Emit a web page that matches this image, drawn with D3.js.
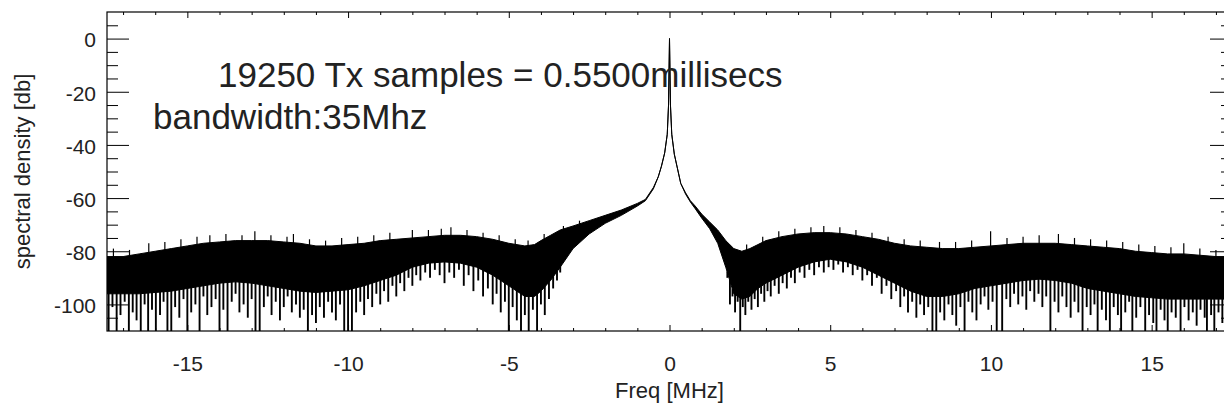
<!DOCTYPE html>
<html>
<head>
<meta charset="utf-8">
<script src="https://cdn.jsdelivr.net/npm/d3@7"></script>
<style>
  body { margin: 0; background: #fff; }
  svg { display: block; overflow: hidden; }
  text { font-family: "Liberation Sans", Arial, Helvetica, sans-serif; fill: #222; }
</style>
</head>
<body>
<div id="chart"></div>
<script>
// spectrum: dense noise band (top / bottom edge) in dB
const bandFreq = [-17.5, -17.0, -16.5, -16.0, -15.5, -15.0, -14.5, -14.0, -13.5, -13.0, -12.5, -12.0,
    -11.5, -11.0, -10.5, -10.0, -9.5, -9.0, -8.5, -8.0, -7.5, -7.0, -6.5, -6.0, -5.5, -5.0, -4.5, -4.2,
    -4.0, -3.7, -3.4, -3.0, -2.5, -2.0, -1.5, -1.0, -0.75, -0.5, -0.35, -0.25, -0.15, -0.07, -0.03, 0,
    0.03, 0.07, 0.15, 0.25, 0.35, 0.5, 0.65, 0.8, 1.0, 1.25, 1.5, 1.75, 2.0, 2.25, 2.5, 2.75, 3.0,
    3.5, 4.0, 4.5, 5.0, 5.5, 6.0, 6.5, 7.0, 7.5, 8.0, 8.5, 9.0, 9.5, 10.0, 10.5, 11.0, 11.5, 12.0,
    12.5, 13.0, 13.5, 14.0, 14.5, 15.0, 15.5, 16.0, 16.5, 17.0, 17.5];
const bandTop = [-82, -82, -81, -80, -79, -78, -77, -76.5, -76, -76, -76, -76.5,
    -77, -78, -78, -77.5, -77, -76, -75.5, -75, -74.5, -74, -74, -74.5, -75.5, -77, -78, -77.5,
    -76, -74, -72, -70.5, -68.5, -66.5, -64.5, -62, -60.5, -56, -52, -48, -43, -36, -25, 0,
    -25, -36, -43.5, -49, -54.5, -58, -61, -63, -66, -69, -72, -76, -79, -80, -79, -77.5, -76,
    -74.5, -73.5, -73, -73, -73.5, -74.5, -75.5, -77, -78, -78.5, -79, -79, -78.5, -78, -77.5, -77, -77, -77,
    -77.5, -78, -78.5, -79, -80, -80.5, -81, -81, -81.5, -82, -82];
const bandBottom = [-96, -96, -96, -95.5, -95, -94, -93, -92, -91.5, -92, -93, -94,
    -95, -95.5, -95, -94.5, -93, -91, -89, -86, -84.5, -84, -84.5, -86, -89, -93, -97, -97,
    -95, -91, -86, -79, -73.5, -69.5, -66.5, -63, -61, -56.5, -52, -48, -43, -36, -25, 0,
    -25, -36, -43.5, -49, -54.5, -58.5, -61.5, -64, -67.5, -71.5, -77, -86, -96, -98, -97, -94, -92,
    -89, -86, -84, -83, -84, -86, -89, -92, -95, -97, -97, -96, -94, -93, -92, -91, -90.5, -91,
    -92, -94, -95, -96, -97, -97.5, -98, -98, -98, -98, -98];

// narrow drops hanging below the band (the comb under the noise floor)
const dropFreq = [-17.45, -17.33, -17.2, -17.08, -16.95, -16.82, -16.7, -16.58, -16.45, -16.33, -16.22, -16.1,
    -15.98, -15.85, -15.74, -15.62, -15.5, -15.38, -15.25, -15.12, -15.0, -14.88, -14.75, -14.62, -14.5,
    -14.38, -14.25, -14.12, -14.0, -13.88, -13.75, -13.62, -13.5, -13.38, -13.25, -13.12, -13.0, -12.88,
    -12.75, -12.62, -12.5, -12.38, -12.25, -12.12, -12.0, -11.88, -11.75, -11.62, -11.5, -11.38, -11.25,
    -11.12, -11.0, -10.88, -10.75, -10.62, -10.5, -10.38, -10.25, -10.12, -10.0, -9.88, -9.75, -9.62,
    -9.5, -9.38, -9.25, -9.12, -9.0, -8.88, -8.75, -8.62, -8.5, -8.38, -8.25, -8.12, -8.0, -7.88, -7.75,
    -7.6, -7.45, -7.3, -7.15, -7.0, -6.85, -6.7, -6.55, -6.4, -6.25, -6.1, -5.95, -5.8, -5.65, -5.5,
    -5.38, -5.25, -5.12, -5.0, -4.88, -4.75, -4.62, -4.5, -4.38, -4.25, -4.12, -4.0, -3.88, -3.75,
    -3.62, -3.5, -3.4,
    1.8, 1.88, 1.96, 2.04, 2.12, 2.2, 2.28, 2.36, 2.45, 2.55, 2.65, 2.75, 2.85, 2.95, 3.05, 3.15, 3.27,
    3.4, 3.52, 3.65, 3.78, 3.9, 4.05, 4.2, 4.35, 4.5, 4.65, 4.8, 4.95, 5.1, 5.25, 5.4, 5.55, 5.7, 5.85,
    6.0, 6.15, 6.3, 6.45, 6.6, 6.75, 6.9, 7.05, 7.18, 7.3, 7.42, 7.55, 7.68, 7.8, 7.92, 8.05, 8.18, 8.3,
    8.42, 8.55, 8.68, 8.8, 8.92, 9.05, 9.18, 9.3, 9.42, 9.55, 9.68, 9.8, 9.92, 10.05, 10.18, 10.35,
    10.48, 10.6, 10.72, 10.85, 10.98, 11.1, 11.22, 11.35, 11.48, 11.6, 11.72, 11.85, 11.98, 12.1, 12.22,
    12.35, 12.48, 12.6, 12.72, 12.85, 12.98, 13.1, 13.22, 13.32, 13.45, 13.58, 13.7, 13.82, 13.95, 14.05,
    14.18, 14.3, 14.4, 14.52, 14.65, 14.8, 14.92, 15.05, 15.15, 15.28, 15.4, 15.5, 15.62, 15.75, 15.9,
    16.02, 16.15, 16.28, 16.4, 16.52, 16.65, 16.72, 16.85, 16.95, 17.08, 17.2, 17.32, 17.45];
const dropDb = [-110, -101, -110, -104, -99, -110, -103, -106, -110, -100, -110, -102,
    -110, -104, -99, -110, -110, -101, -105, -98, -110, -103, -100, -110, -97,
    -104, -101, -98, -110, -102, -110, -99, -96, -103, -100, -105, -98, -110,
    -110, -101, -97, -104, -99, -106, -101, -97, -103, -100, -105, -102, -110,
    -104, -107, -101, -105, -99, -103, -106, -100, -110, -110, -110, -103, -99,
    -104, -98, -101, -96, -100, -95, -99, -93, -97, -92, -95, -90, -93, -89, -91,
    -88, -90, -87, -89, -92, -88, -90, -87, -93, -89, -95, -91, -97, -94, -100,
    -96, -103, -99, -110, -101, -106, -110, -104, -110, -102, -110, -100, -104, -98,
    -94, -91, -88,
    -90, -100, -97, -103, -99, -110, -101, -104, -99, -102, -98, -101, -96, -99, -95, -97, -93,
    -96, -92, -94, -90, -92, -88, -90, -87, -89, -86, -88, -86, -87, -85, -88, -86, -89, -87,
    -91, -89, -93, -90, -96, -93, -98, -95, -101, -97, -103, -99, -105, -100, -104, -101, -110, -110,
    -103, -106, -100, -104, -108, -101, -110, -99, -103, -106, -100, -97, -102, -99, -110, -110,
    -98, -101, -96, -100, -97, -102, -95, -99, -96, -101, -97, -110, -99, -103, -97,
    -101, -105, -99, -103, -110, -101, -104, -100, -110, -102, -106, -110, -101, -104, -110,
    -103, -99, -110, -105, -101, -110, -104, -107, -110, -102, -106, -110, -103, -105, -110,
    -101, -106, -103, -108, -102, -105, -110, -104, -110, -103, -107, -101, -110];

// small spikes poking above the band top
const riseFreq = [-17.3, -16.8, -16.2, -15.7, -15.2, -14.7, -14.3, -13.8, -13.3, -12.9, -12.4, -11.9,
    -11.7, -11.2, -10.7, -10.2, -9.7, -9.2, -8.7, -8.0, -7.5, -7.1, -6.8, -6.3, -5.8, -5.3, -4.8, -4.4,
    -3.9, -3.3, -2.8, 2.4, 2.9, 3.4, 3.9, 4.4, 4.8, 5.3, 5.8, 6.3, 6.8, 7.3, 7.8, 8.4, 8.9, 9.4, 9.99,
    10.5, 11.0, 11.5, 12.1, 12.6, 13.1, 13.6, 14.1, 14.6, 15.1, 15.6, 16.0, 16.5, 17.0, 17.4];
const riseDb = [-79, -79.5, -77, -76.5, -75.5, -74.5, -74, -73.5, -74, -72.5, -74, -74.5,
    -73.5, -75.5, -76, -75, -74.5, -74, -73, -72, -72, -71.5, -71, -72, -73, -74, -75.5, -76,
    -73.5, -70.5, -68.5, -77.5, -74.5, -72.5, -71.5, -71, -70.5, -71, -72, -73, -74.5, -75.5, -76, -76.5,
    -76.5, -76, -72.5, -75, -74.5, -74, -73.5, -75, -75.5, -76, -76.5, -77.5, -78, -78.5, -77, -79,
    -79.5, -79.5];

const xMajorTicks = [-15, -10, -5, 0, 5, 10, 15];
const yMajorTicks = [0, -20, -40, -60, -80, -100];

const textLines = ["19250 Tx samples = 0.5500millisecs", "bandwidth:35Mhz"];
const xTitle = "Freq [MHz]";
const yTitle = "spectral density [db]";

const margin = { top: 12, right: -8, bottom: 81, left: 107 };
const fullWidth = 1224;
const fullHeight = 412;
const width = fullWidth - margin.left - margin.right;
const height = fullHeight - margin.top - margin.bottom;

const svg = d3.select("#chart")
    .append("svg")
    .attr("width", fullWidth)
    .attr("height", fullHeight)
    .append("g")
    .attr("transform", `translate(${margin.left},${margin.top})`);

const xScale = d3.scaleLinear().domain([-17.5, 17.5]).range([0, width]);
const yScale = d3.scaleLinear().domain([-110, 10]).range([height, 0]);

svg.append("clipPath")
    .attr("id", "plot-clip")
    .append("rect")
    .attr("width", width)
    .attr("height", height);

const plot = svg.append("g").attr("clip-path", "url(#plot-clip)");

const band = bandFreq.map((f, i) => ({ f: f, top: bandTop[i], bot: bandBottom[i] }));

plot.append("path")
    .datum(band)
    .attr("d", d3.area()
        .x((d) => xScale(d.f))
        .y0((d) => yScale(d.bot))
        .y1((d) => yScale(d.top)))
    .attr("fill", "#000")
    .attr("stroke", "#000")
    .attr("stroke-width", 1);

// edge of the band at a given frequency, so spikes start where the band ends
const edgeAt = (values, f) => {
    const i = d3.bisectLeft(bandFreq, f);
    if (i <= 0) return values[0];
    if (i >= bandFreq.length) return values[values.length - 1];
    const t = (f - bandFreq[i - 1]) / (bandFreq[i] - bandFreq[i - 1]);
    return values[i - 1] + t * (values[i] - values[i - 1]);
};

plot.selectAll("line.drop")
    .data(dropFreq.map((f, i) => ({ f: f, db: dropDb[i] })))
    .enter()
    .append("line")
    .attr("class", "drop")
    .attr("x1", (d) => xScale(d.f))
    .attr("x2", (d) => xScale(d.f))
    .attr("y1", (d) => yScale(edgeAt(bandBottom, d.f)) - 1)
    .attr("y2", (d) => yScale(d.db))
    .attr("stroke", "#000")
    .attr("stroke-width", 1.9);

plot.selectAll("line.rise")
    .data(riseFreq.map((f, i) => ({ f: f, db: riseDb[i] })))
    .enter()
    .append("line")
    .attr("class", "rise")
    .attr("x1", (d) => xScale(d.f))
    .attr("x2", (d) => xScale(d.f))
    .attr("y1", (d) => yScale(edgeAt(bandTop, d.f)) + 1)
    .attr("y2", (d) => yScale(d.db))
    .attr("stroke", "#000")
    .attr("stroke-width", 1.2);

// axes, IDL style: ticks pointing inward on all four sides
const yMinor = d3.range(5, -110, -5).filter((v) => !yMajorTicks.includes(v));
const xMinor = d3.range(-17, 18, 1).filter((v) => !xMajorTicks.includes(v));
const plain = (d) => String(d);

function styleAxis(g) {
    g.select(".domain").remove();
    g.selectAll("line").attr("stroke", "#000").attr("stroke-width", 1);
    g.selectAll("text").style("font-size", "21px").attr("fill", "#222");
}

svg.append("g")
    .call(d3.axisLeft(yScale).tickValues(yMajorTicks).tickSize(-22).tickPadding(11).tickFormat(plain))
    .call(styleAxis)
    .call((g) => g.selectAll("text").attr("dy", "0.4em"));
svg.append("g")
    .call(d3.axisLeft(yScale).tickValues(yMinor).tickSize(-11).tickFormat(""))
    .call(styleAxis);
svg.append("g")
    .attr("transform", `translate(${width},0)`)
    .call(d3.axisRight(yScale).tickValues(yMajorTicks).tickSize(-22).tickFormat(""))
    .call(styleAxis);
svg.append("g")
    .attr("transform", `translate(${width},0)`)
    .call(d3.axisRight(yScale).tickValues(yMinor).tickSize(-11).tickFormat(""))
    .call(styleAxis);

svg.append("g")
    .attr("transform", `translate(0,${height})`)
    .call(d3.axisBottom(xScale).tickValues(xMajorTicks).tickSize(-6).tickPadding(25).tickFormat(plain))
    .call(styleAxis);
svg.append("g")
    .attr("transform", `translate(0,${height})`)
    .call(d3.axisBottom(xScale).tickValues(xMinor).tickSize(-3).tickFormat(""))
    .call(styleAxis);
svg.append("g")
    .call(d3.axisTop(xScale).tickValues(xMajorTicks).tickSize(-6).tickFormat(""))
    .call(styleAxis);
svg.append("g")
    .call(d3.axisTop(xScale).tickValues(xMinor).tickSize(-3).tickFormat(""))
    .call(styleAxis);

svg.append("rect")
    .attr("width", width)
    .attr("height", height)
    .attr("fill", "none")
    .attr("stroke", "#000")
    .attr("stroke-width", 1.2);

svg.append("text")
    .attr("x", width / 2)
    .attr("y", height + 67)
    .style("text-anchor", "middle")
    .style("font-size", "22px")
    .text(xTitle);

svg.append("text")
    .attr("transform", "rotate(-90)")
    .attr("x", -height / 2)
    .attr("y", -margin.left + 30)
    .style("text-anchor", "middle")
    .style("font-size", "22px")
    .text(yTitle);

svg.append("text")
    .attr("x", 218 - margin.left)
    .attr("y", 87 - margin.top)
    .style("font-size", "35px")
    .text(textLines[0]);

svg.append("text")
    .attr("x", 153 - margin.left)
    .attr("y", 129 - margin.top)
    .style("font-size", "35px")
    .text(textLines[1]);
</script>
</body>
</html>
